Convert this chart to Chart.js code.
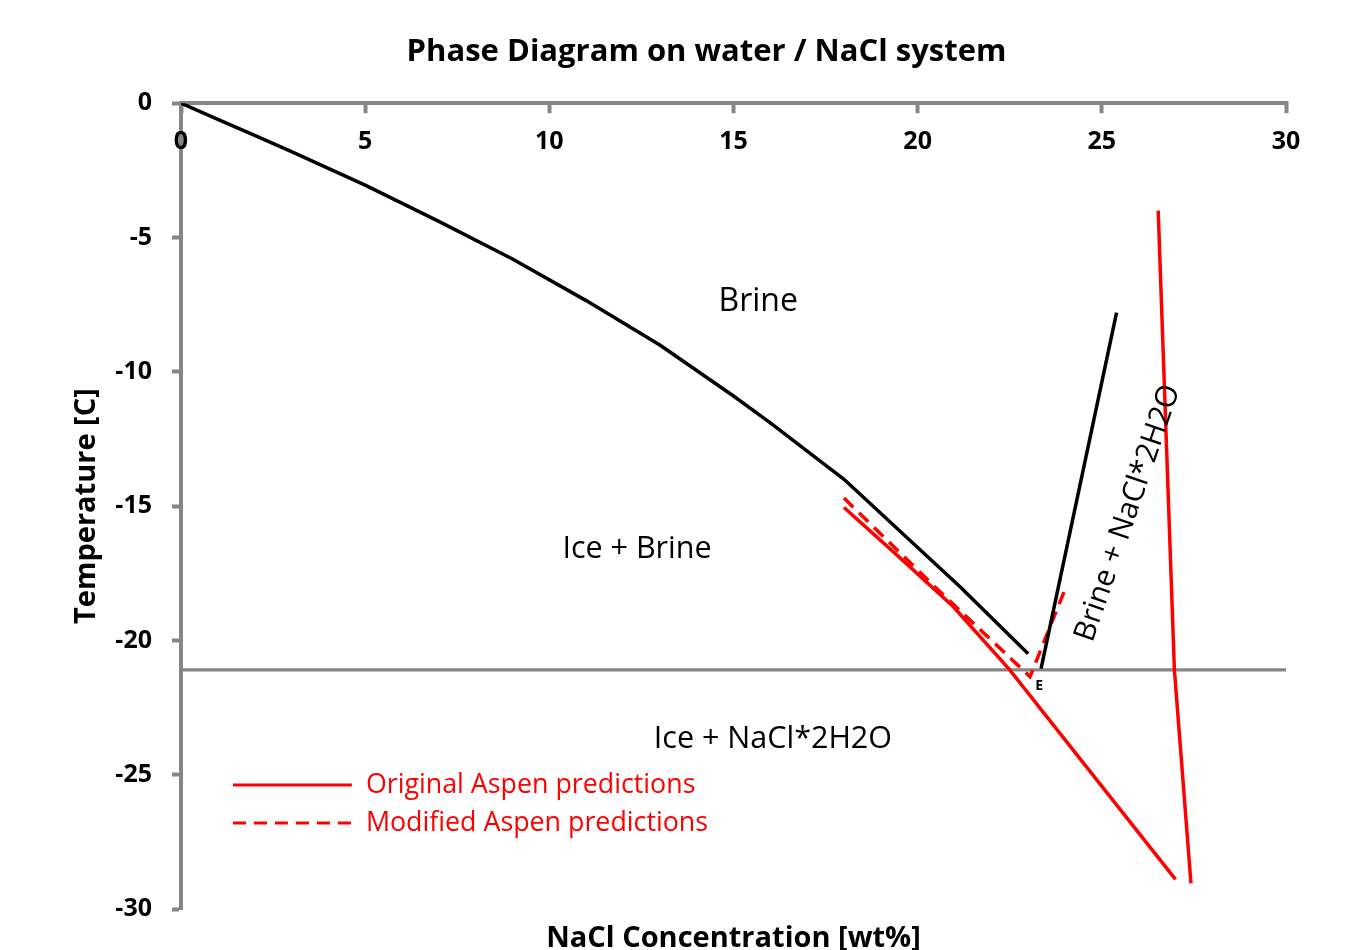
<!DOCTYPE html>
<html>
<head>
<meta charset="utf-8">
<title>Phase Diagram on water / NaCl system</title>
<script src="https://cdn.jsdelivr.net/npm/chart.js@4.4.1/dist/chart.umd.min.js"></script>
<style>
    html, body { margin: 0; padding: 0; background: #ffffff; }
    #chart { display: block; }
</style>
</head>
<body>
<canvas id="chart" width="1367" height="950"></canvas>
<script>
    "use strict";

    // ice / brine liquidus (literature)
    var iceConc = [0, 1, 2, 3, 5, 7, 9, 11, 13, 15, 16, 17, 18, 21.15, 23.0];
    var iceTemp = [0, -0.6, -1.2, -1.8, -3.05, -4.4, -5.8, -7.35, -9.0, -10.9, -11.9, -12.95, -14.0, -18.0, -20.5];
    // hydrohalite / brine line (literature)
    var saltConc = [23.35, 25.4];
    var saltTemp = [-21.05, -7.8];
    // original Aspen predictions
    var aspenIceConc = [18.0, 19.5, 20.97, 22.5, 27.0];
    var aspenIceTemp = [-15.05, -16.9, -18.75, -21.1, -28.9];
    var aspenSaltConc = [26.53, 26.97, 27.42];
    var aspenSaltTemp = [-4.0, -21.1, -29.05];
    // modified Aspen predictions
    var modConc = [18.0, 20.5, 23.05, 24.0];
    var modTemp = [-14.7, -18.05, -21.35, -18.1];
    // eutectic temperature
    var eutecticConc = [0, 30];
    var eutecticTemp = [-21.1, -21.1];

    var xTicks = [0, 5, 10, 15, 20, 25, 30];

    var regionLabels = ["Brine", "Ice + Brine", "Ice + NaCl*2H2O", "Brine + NaCl*2H2O", "E"];
    var legendLabels = ["Original Aspen predictions", "Modified Aspen predictions"];

    var RED = "#ff0000";
    var GREY = "#868686";
    var FONT = "'Open Sans', Lato, sans-serif";

    function toPoints(xs, ys) {
        return xs.map(function (x, i) {
            return {x: x, y: ys[i]};
        });
    }

    function lineSet(label, xs, ys, color, dash, width) {
        return {
            label: label,
            data: toPoints(xs, ys),
            showLine: true,
            borderColor: color,
            backgroundColor: color,
            borderWidth: width,
            borderDash: dash,
            pointRadius: 0,
            tension: 0,
            fill: false,
        };
    }

    // text placed in data coordinates
    var regionText = [
        {x: 15.67, y: -7.4, size: 32, angle: 0},
        {x: 12.38, y: -16.6, size: 30.5, angle: 0},
        {x: 16.07, y: -23.68, size: 30.5, angle: 0},
        {x: 25.71, y: -15.26, size: 30, angle: -71},
        {x: 23.3, y: -21.7, size: 14, angle: 0},
    ];

    var textPlugin = {
        id: "phaseText",
        afterDraw: function (chart) {
            var ctx = chart.ctx;
            var sx = chart.scales.x;
            var sy = chart.scales.y;
            var top = chart.chartArea.top;
            ctx.save();

            // x tick labels sit under the top axis line
            ctx.fillStyle = "#000000";
            ctx.font = "bold 25px " + FONT;
            ctx.textAlign = "center";
            ctx.textBaseline = "middle";
            xTicks.forEach(function (v) {
                ctx.fillText(String(v), sx.getPixelForValue(v), top + 39);
            });

            // phase region labels
            regionText.forEach(function (t, i) {
                ctx.save();
                ctx.translate(sx.getPixelForValue(t.x), sy.getPixelForValue(t.y));
                ctx.rotate(t.angle * Math.PI / 180);
                ctx.font = (i === 4 ? "bold " : "") + t.size + "px " + FONT;
                ctx.fillStyle = "#000000";
                ctx.textAlign = "center";
                ctx.textBaseline = "middle";
                ctx.fillText(regionLabels[i], 0, 0);
                ctx.restore();
            });

            // legend inside the plot, lower left
            var legendSets = [chart.data.datasets[2], chart.data.datasets[4]];
            var x0 = sx.getPixelForValue(1.41);
            var x1 = sx.getPixelForValue(4.64);
            var xt = sx.getPixelForValue(5.02);
            var rows = [-25.38, -26.8];
            legendSets.forEach(function (ds, i) {
                var yy = sy.getPixelForValue(rows[i]);
                ctx.strokeStyle = ds.borderColor;
                ctx.lineWidth = 3;
                ctx.setLineDash(ds.borderDash || []);
                ctx.beginPath();
                ctx.moveTo(x0, yy);
                ctx.lineTo(x1, yy);
                ctx.stroke();
                ctx.setLineDash([]);
                ctx.fillStyle = ds.borderColor;
                ctx.font = "26.8px " + FONT;
                ctx.textAlign = "left";
                ctx.textBaseline = "middle";
                ctx.fillText(legendLabels[i], xt, yy);
            });
            ctx.restore();
        },
    };

    new Chart(document.getElementById("chart"), {
        type: "scatter",
        data: {
            datasets: [
                lineSet("Ice + Brine boundary", iceConc, iceTemp, "#000000", [], 3.5),
                lineSet("NaCl*2H2O + Brine boundary", saltConc, saltTemp, "#000000", [], 3.5),
                lineSet(legendLabels[0], aspenIceConc, aspenIceTemp, RED, [], 3.5),
                lineSet(legendLabels[0] + " (salt)", aspenSaltConc, aspenSaltTemp, RED, [], 3.5),
                lineSet(legendLabels[1], modConc, modTemp, RED, [13, 8], 3.5),
                lineSet("Eutectic", eutecticConc, eutecticTemp, GREY, [], 3.2),
            ],
        },
        options: {
            responsive: false,
            animation: false,
            devicePixelRatio: 1,
            layout: {
                padding: {left: 46, right: 0, top: 0, bottom: 0},
            },
            plugins: {
                legend: {display: false},
                tooltip: {enabled: false},
                title: {
                    display: true,
                    text: "Phase Diagram on water / NaCl system",
                    color: "#000000",
                    font: {family: FONT, size: 31, weight: "bold"},
                    padding: {top: 34, bottom: 32},
                },
            },
            scales: {
                x: {
                    type: "linear",
                    position: "top",
                    min: 0,
                    max: 30,
                    ticks: {display: false, stepSize: 5},
                    grid: {
                        drawOnChartArea: false,
                        drawTicks: true,
                        tickLength: -10,
                        tickColor: GREY,
                        tickWidth: 4,
                    },
                    border: {display: true, color: GREY, width: 4},
                    afterFit: function (scale) {
                        scale.height = 0;
                    },
                },
                x2: {
                    type: "linear",
                    position: "bottom",
                    min: 0,
                    max: 30,
                    ticks: {display: false},
                    grid: {display: false, drawTicks: false},
                    border: {display: false},
                    title: {
                        display: true,
                        text: "NaCl Concentration [wt%]",
                        color: "#000000",
                        font: {family: FONT, size: 29, weight: "bold"},
                        padding: {top: 10, bottom: -6},
                    },
                    afterFit: function (scale) {
                        scale.height = 41;
                    },
                },
                y: {
                    type: "linear",
                    position: "left",
                    min: -30,
                    max: 0,
                    ticks: {
                        stepSize: 5,
                        padding: 20,
                        color: "#000000",
                        font: {family: FONT, size: 25, weight: "bold"},
                    },
                    grid: {
                        drawOnChartArea: false,
                        drawTicks: true,
                        tickLength: 9,
                        tickColor: GREY,
                        tickWidth: 4,
                    },
                    border: {display: true, color: GREY, width: 4},
                    title: {
                        display: true,
                        text: "Temperature [C]",
                        color: "#000000",
                        font: {family: FONT, size: 29, weight: "bold"},
                        padding: {top: 23, bottom: 0},
                    },
                    afterFit: function (scale) {
                        scale.width = 135;
                    },
                },
                y2: {
                    type: "linear",
                    position: "right",
                    ticks: {display: false},
                    grid: {display: false, drawTicks: false},
                    border: {display: false},
                    afterFit: function (scale) {
                        scale.width = 81;
                    },
                },
            },
        },
        plugins: [textPlugin],
    });
</script>
</body>
</html>
